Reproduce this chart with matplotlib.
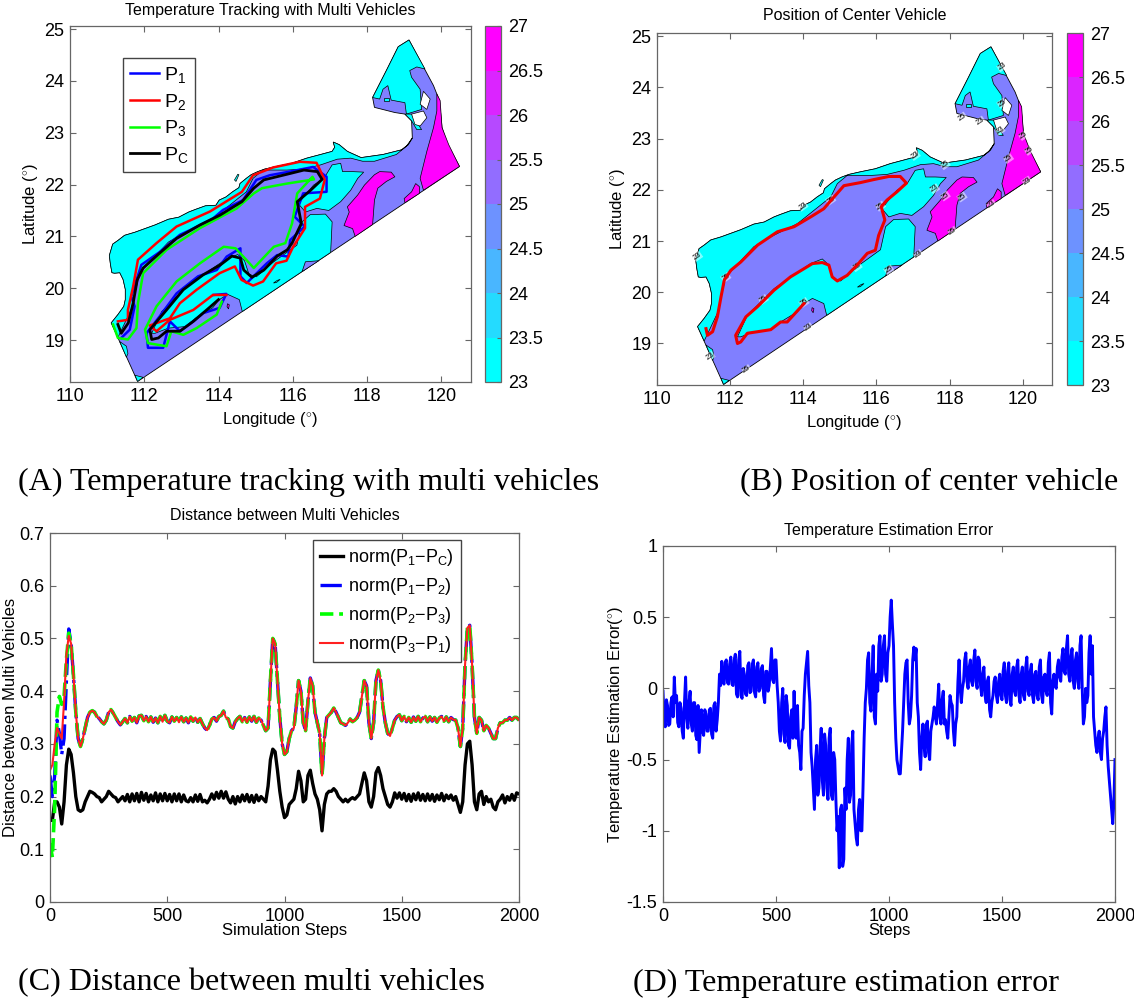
import numpy as np
import matplotlib
matplotlib.use('Agg')
import matplotlib.pyplot as plt
from matplotlib.colors import BoundaryNorm, ListedColormap, Normalize
from matplotlib.cm import ScalarMappable

plt.rcParams['font.family'] = 'Liberation Sans'
plt.rcParams['mathtext.fontset'] = 'custom'
plt.rcParams['mathtext.rm'] = 'Liberation Sans'
plt.rcParams['mathtext.it'] = 'Liberation Sans'
plt.rcParams['axes.unicode_minus'] = False
plt.rcParams['axes.linewidth'] = 0.9
plt.rcParams['axes.edgecolor'] = '#666666'

W, H = 1134, 1000

# map outline and temperature regions, lon / lat
south_lon = [111.82, 120.49, 120.15, 120.02, 119.95, 119.79, 119.13, 118.84, 118.52, 118.15, 118.20, 118.75,
             119.02, 119.20]
south_lat = [18.20, 22.35, 22.80, 23.10, 23.62, 23.91, 24.79, 24.66, 24.20, 23.68, 23.49, 23.39,
             23.36, 23.23]
north_lon = [119.22, 119.11, 118.93, 118.43, 117.84, 117.47, 117.25, 117.09, 117.13, 117.06, 116.75, 116.38,
             115.97, 115.56, 115.25, 115.06, 114.88, 114.75, 114.58, 114.55, 114.38, 114.20, 114.02, 113.93,
             113.65, 113.38, 113.20, 112.93, 112.65, 112.29, 112.02, 111.75, 111.47, 111.29, 111.15, 111.06,
             111.09, 111.13, 111.20, 111.34, 111.43, 111.49, 111.49, 111.45, 111.29, 111.11]
north_lat = [22.90, 22.77, 22.67, 22.58, 22.52, 22.64, 22.77, 22.82, 22.72, 22.64, 22.58, 22.51,
             22.41, 22.35, 22.30, 22.25, 22.19, 22.12, 22.02, 21.94, 21.86, 21.76, 21.70, 21.60,
             21.59, 21.52, 21.47, 21.37, 21.33, 21.22, 21.15, 21.08, 21.02, 20.92, 20.85, 20.63,
             20.46, 20.30, 20.29, 20.30, 20.17, 19.98, 19.78, 19.65, 19.49, 19.33]
inner_lon = [111.29, 111.65, 111.88, 112.65, 113.02, 113.84, 114.75, 114.93, 115.20, 115.84, 116.29, 116.75, 117.20,
             117.56, 117.88, 118.20, 118.79, 119.06]
inner_lat = [19.05, 19.59, 20.30, 20.89, 21.05, 21.34, 21.86, 22.12, 22.28, 22.28, 22.30, 22.38, 22.49,
             22.51, 22.45, 22.45, 22.58, 22.74]

central_lon = [112.20, 112.47, 113.20, 114.20, 114.52, 114.70, 114.82, 115.02, 115.47, 116.11, 116.25, 116.47,
               116.88, 117.06, 117.02, 114.64, 114.56, 114.25, 114.02, 113.84, 113.38, 113.11, 112.65, 112.29]
central_lat = [19.13, 19.55, 20.07, 20.56, 20.65, 20.53, 20.27, 20.22, 20.50, 20.83, 21.28, 21.42,
               21.43, 21.28, 20.69, 19.55, 19.78, 19.88, 19.78, 19.62, 19.42, 19.26, 19.23, 19.13]

upper_lon = [116.29, 116.56, 116.84, 117.06, 117.29, 117.34, 117.61, 117.91, 117.75, 117.56, 117.29, 116.97,
             116.65, 116.34, 116.15]
upper_lat = [21.76, 21.99, 22.12, 22.38, 22.41, 22.25, 22.25, 22.24, 22.12, 21.89, 21.67, 21.50,
             21.54, 21.47, 21.63]

top_lon = [119.13, 119.56, 119.34, 119.15, 119.20, 119.43, 119.47, 119.06, 119.02, 118.65, 118.56, 118.43,
           118.34, 118.15, 118.52, 118.84]
top_lat = [24.79, 24.23, 24.27, 24.20, 24.07, 23.84, 23.45, 23.36, 23.58, 23.63, 23.91, 23.84,
           23.65, 23.68, 24.20, 24.66]

spot_lon = [118.45, 118.58, 118.58, 118.45]
spot_lat = [23.68, 23.68, 23.62, 23.62]
neck_lon = [119.02, 119.20, 119.47, 119.34, 119.20]
neck_lat = [23.36, 23.36, 23.06, 23.06, 23.23]
sw_lon = [111.34, 111.52, 111.56, 111.52]
sw_lat = [18.97, 18.88, 18.74, 18.67]
tip_lon = [111.75, 111.97, 111.82]
tip_lat = [18.32, 18.28, 18.20]
isle_lon = [115.48, 115.58, 115.66, 115.56]
isle_lat = [20.10, 20.15, 20.17, 20.11]
islet_lon = [114.43, 114.52, 114.55, 114.47]
islet_lat = [22.09, 22.20, 22.19, 22.06]

east_lon = [119.88, 119.97, 120.02, 120.20, 120.49, 119.52, 119.43, 119.61, 119.79, 119.88]
east_lat = [23.75, 23.62, 23.10, 22.77, 22.35, 21.89, 22.12, 22.64, 23.10, 23.42]
mid_lon = [118.75, 118.52, 118.29, 118.20, 118.15, 117.68, 117.61, 117.38, 117.52, 117.47, 117.75, 117.93,
           118.20, 118.34, 118.65]
mid_lat = [22.15, 22.06, 21.93, 21.70, 21.23, 21.00, 21.15, 21.21, 21.47, 21.57, 21.80, 21.99,
           22.19, 22.25, 22.24]
small_lon = [119.02, 119.00, 119.20, 119.31, 119.41, 119.41]
small_lat = [21.65, 21.73, 21.86, 22.02, 21.96, 21.83]
dot_lon = [114.24, 114.29, 114.27, 114.23]
dot_lat = [19.70, 19.68, 19.60, 19.64]
patch_lon = [116.25, 116.34, 116.70]
patch_lat = [20.32, 20.51, 20.53]

bay1_lon = [119.52, 119.70, 119.61, 119.43]
bay1_lat = [23.80, 23.65, 23.45, 23.55]
bay2_lon = [119.20, 119.52, 119.61, 119.43, 119.29]
bay2_lat = [23.36, 23.42, 23.29, 23.13, 23.16]

# vehicle tracks in panel A
p1_lon = [111.38, 111.61, 111.74, 111.65, 111.92, 112.42, 112.96, 113.23, 113.86, 114.12, 114.66, 115.02, 115.38,
          115.92, 116.55, 116.91, 116.91, 116.28, 116.05, 116.32, 115.93, 115.88, 115.58, 115.30, 114.76, 114.59,
          114.59, 114.22, 113.95, 113.45, 112.87, 112.42, 112.06, 112.10, 112.51, 112.69, 112.96, 113.32, 113.59,
          114.03, 114.21, 113.87]
p1_lat = [19.04, 19.20, 19.65, 19.84, 20.45, 20.70, 21.03, 21.12, 21.35, 21.51, 21.70, 22.09, 22.18,
          22.25, 22.34, 22.15, 21.86, 21.83, 21.38, 21.19, 20.93, 20.61, 20.64, 20.48, 20.10, 20.23,
          20.77, 20.61, 20.35, 20.23, 19.90, 19.46, 19.13, 18.85, 18.85, 19.36, 19.17, 19.36, 19.52,
          19.62, 19.89, 19.87]
p2_lon = [111.29, 111.56, 111.56, 111.70, 111.83, 112.33, 112.87, 113.77, 114.63, 114.93, 115.47, 116.19, 116.64,
          116.86, 116.73, 116.33, 116.33, 116.01, 115.83, 115.55, 115.20, 114.93, 114.62, 114.44, 114.03, 113.41,
          112.96, 112.69, 112.15, 112.33, 112.69, 113.32, 113.85, 114.21]
p2_lat = [19.36, 19.39, 19.58, 20.03, 20.55, 20.87, 21.19, 21.48, 21.86, 22.18, 22.33, 22.44, 22.42,
          22.09, 21.73, 21.57, 21.16, 20.80, 20.53, 20.48, 20.13, 20.05, 20.16, 20.42, 20.29, 19.97,
          19.71, 19.42, 19.28, 19.17, 19.39, 19.58, 19.87, 19.87]
p3_lon = [111.16, 111.29, 111.56, 111.79, 111.83, 111.97, 112.60, 113.50, 114.49, 114.95, 115.17, 115.85, 116.57,
          116.53, 116.12, 115.98, 115.80, 115.49, 114.95, 114.46, 114.14, 113.50, 112.87, 112.33, 112.02, 112.10,
          112.60, 112.73, 113.05, 113.41, 113.95, 114.09]
p3_lat = [19.30, 19.04, 19.01, 19.23, 19.71, 20.29, 20.74, 21.16, 21.54, 21.83, 21.93, 22.02, 22.10,
          22.15, 21.83, 21.25, 20.87, 20.80, 20.39, 20.77, 20.80, 20.48, 20.13, 19.65, 19.20, 18.94,
          18.88, 19.17, 19.10, 19.23, 19.49, 19.74]
pc_lon = [111.29, 111.38, 111.57, 111.70, 111.81, 111.97, 112.42, 112.87, 113.50, 114.04, 114.63, 114.95, 115.22,
          115.85, 116.30, 116.66, 116.79, 116.48, 116.12, 116.23, 115.98, 115.85, 115.58, 115.22, 114.90, 114.68,
          114.59, 114.36, 114.05, 113.59, 113.05, 112.60, 112.15, 112.20, 112.38, 112.60, 112.96, 113.32, 113.68,
          114.00]
pc_lat = [19.30, 19.13, 19.33, 19.71, 20.16, 20.39, 20.68, 20.96, 21.22, 21.41, 21.67, 21.93, 22.09,
          22.20, 22.28, 22.25, 22.10, 21.89, 21.67, 21.25, 20.87, 20.74, 20.62, 20.35, 20.21, 20.35,
          20.58, 20.62, 20.45, 20.26, 19.97, 19.58, 19.20, 19.01, 19.04, 19.17, 19.17, 19.36, 19.58,
          19.78]

# center vehicle in panel B
center_lon = [111.34, 111.38, 111.52, 111.65, 111.75, 111.84, 112.02, 112.29, 112.75, 113.29, 113.75, 114.20, 114.56,
              114.84, 115.11, 115.56, 115.93, 116.34, 116.65, 116.82, 116.56, 116.29, 116.13, 116.23, 116.06, 115.97,
              115.75, 115.47, 115.20, 114.93, 114.79, 114.70, 114.52, 114.25, 114.02, 113.65, 113.20, 112.75, 112.43,
              112.15, 112.20, 112.29, 112.47, 112.75, 113.11, 113.38, 113.56, 114.02]
center_lat = [19.29, 19.16, 19.23, 19.52, 19.91, 20.24, 20.43, 20.59, 20.92, 21.18, 21.28, 21.47, 21.63,
              21.86, 22.08, 22.14, 22.20, 22.26, 22.26, 22.13, 21.96, 21.80, 21.67, 21.41, 21.11, 20.82,
              20.76, 20.53, 20.33, 20.22, 20.30, 20.53, 20.58, 20.56, 20.46, 20.30, 20.04, 19.72, 19.52,
              19.16, 19.00, 19.03, 19.20, 19.23, 19.27, 19.42, 19.42, 19.78]

# contour labels in panel B
label_lon = [111.11, 111.88, 112.91, 114.02, 114.14, 111.45, 112.45, 113.99, 114.75, 115.47, 116.34, 117.14, 118.08,
             119.15, 120.11, 120.18, 120.02, 119.61, 118.84, 118.34, 119.43, 119.43, 119.38, 117.06, 117.88, 117.59,
             117.88, 118.34, 116.11]
label_lat = [20.70, 20.29, 19.86, 19.80, 19.31, 18.75, 18.49, 21.68, 21.80, 20.50, 20.44, 20.74, 21.19,
             21.71, 22.17, 22.77, 23.06, 22.61, 23.34, 23.42, 24.40, 23.69, 23.16, 22.67, 22.49, 22.02,
             21.88, 21.86, 21.68]
label_txt = ['23', '25', '25', '25', '23', '23', '25', '23', '25', '25', '25', '23', '25',
             '23', '23', '25', '25', '25', '23', '25', '23', '25', '23', '23', '25', '23',
             '25', '25', '25']

cbar_levels = [23, 23.5, 24, 24.5, 25, 25.5, 26, 26.5, 27]
cbar_labels = ['23', '23.5', '24', '24.5', '25', '25.5', '26', '26.5', '27']
lon_ticks = [110, 112, 114, 116, 118, 120]
lat_ticks = [19, 20, 21, 22, 23, 24, 25]

# distance panel, one value every 10 steps
head_p1p2 = [.24, .2, .24, .345, .32, .28, .31, .42, .518, .49]
head_p2p3 = [.11, .085, .18, .36, .39, .375, .39, .46, .51, .49]
head_p3p1 = [.25, .26, .30, .33, .32, .31, .38, .47, .505, .49]
pair_tail = [.43, .36, .31, .295, .31, .33, .35, .36, .363, .36,
             .352, .348, .342, .338, .345, .36, .365, .358, .35, .342,
             .336, .342, .348, .34, .352, .343, .35, .34, .353, .354,
             .344, .352, .342, .351, .341, .349, .34, .352, .342, .354,
             .343, .34, .351, .343, .35, .341, .351, .342, .349, .34,
             .351, .343, .35, .341, .348, .338, .33, .326, .335, .347,
             .35, .343, .352, .354, .362, .35, .347, .333, .33, .342,
             .348, .352, .342, .35, .341, .351, .343, .352, .341, .349,
             .345, .335, .325, .33, .42, .5, .49, .42, .35, .30,
             .28, .285, .31, .325, .33, .37, .42, .4, .34, .325,
             .38, .425, .41, .36, .34, .32, .24, .31, .35, .355,
             .36, .368, .36, .35, .34, .338, .335, .34, .347, .342,
             .345, .35, .36, .39, .42, .41, .34, .31, .34, .42,
             .44, .42, .37, .34, .32, .315, .33, .345, .352, .355,
             .344, .352, .342, .35, .341, .351, .343, .352, .342, .349,
             .352, .342, .351, .343, .35, .341, .349, .352, .343, .351,
             .342, .35, .346, .345, .33, .295, .33, .45, .52, .525,
             .45, .35, .32, .35, .345, .325, .335, .33, .32, .31,
             .31, .33, .34, .34, .345, .345, .35, .345, .35, .35,
             .345]
p1_pc = [.155, .155, .19, .19, .18, .148, .19, .26, .29, .28,
         .245, .2, .175, .172, .175, .19, .2, .21, .208, .205,
         .2, .198, .19, .195, .2, .21, .205, .2, .198, .19,
         .195, .2, .192, .204, .19, .205, .192, .206, .19, .208,
         .193, .206, .19, .203, .192, .207, .19, .205, .192, .206,
         .192, .204, .19, .205, .192, .205, .19, .203, .192, .19,
         .198, .19, .203, .191, .204, .19, .193, .188, .195, .205,
         .195, .208, .197, .21, .197, .209, .195, .188, .2, .186,
         .2, .19, .203, .192, .204, .19, .202, .189, .203, .192,
         .2, .195, .19, .22, .27, .29, .285, .25, .21, .18,
         .16, .165, .185, .19, .195, .215, .248, .23, .19, .195,
         .24, .25, .225, .205, .195, .175, .135, .185, .205, .21,
         .21, .215, .21, .2, .195, .19, .195, .19, .195, .198,
         .195, .2, .205, .225, .245, .23, .19, .18, .2, .245,
         .255, .24, .215, .2, .185, .18, .19, .207, .197, .207,
         .195, .206, .192, .204, .191, .205, .194, .207, .193, .204,
         .192, .205, .193, .204, .191, .203, .194, .206, .192, .203,
         .196, .203, .193, .2, .185, .17, .19, .26, .3, .305,
         .26, .19, .175, .205, .21, .185, .2, .19, .195, .18,
         .175, .19, .195, .203, .188, .2, .193, .204, .193, .207,
         .205]

# estimation error, one value every 10 steps, then the values between them
est_error = [-.02, -.27, -.12, -.25, -.06, .08, -.05, -.27, -.14, -.35,
             .08, -.28, -.02, -.3, -.1, -.36, -.45, -.15, -.33, -.18,
             -.3, -.14, -.35, -.1, -.22, .1, .19, .03, .2, .03,
             .22, .02, .24, -.06, .26, -.07, .1, -.05, .18, -.02,
             .2, -.06, .18, 0, .16, -.1, .12, .02, .28, .04,
             .2, -.1, -.37, 0, -.38, -.12, -.42, -.15, -.02, -.35,
             -.4, -.57, -.28, .1, .26, -.1, -.55, -.85, -.4, -.7,
             -.28, -.75, -.4, -.78, -.28, -.78, -.5, -1.0, -1.26, -.82,
             -1.2, -.85, -.35, -.75, -.3, -.95, -1.1, -.78, -1.0, -.35,
             0, .25, -.16, .3, -.25, -.02, .37, .1, .37, .05,
             .3, .62, .3, -.35, -.55, -.6, -.3, .1, .2, -.25,
             -.05, .29, .28, -.2, -.57, -.25, -.48, -.23, -.5, -.25,
             -.13, -.25, .03, -.25, -.02, -.22, -.35, -.05, -.12, -.4,
             -.2, .2, -.1, .05, .25, 0, .2, .02, .27, 0,
             .2, -.05, .15, -.1, .08, -.2, -.05, .08, -.1, .1,
             -.08, .18, -.1, .18, -.12, .15, -.05, .2, -.1, .15,
             -.08, .22, -.05, .17, -.1, .12, -.08, .2, -.1, .1,
             -.05, .25, -.18, .1, 0, .2, .05, .28, .1, .37,
             .05, .28, 0, .25, 0, .37, -.25, 0, -.05, .37,
             .3, -.3, -.45, -.3, -.5, -.3, -.13, -.55, -.75, -.95,
             -.5]
est_between = [-.22, -.08, -.26, -.1, -.2, -.1, -.24, -.1, -.3, -.1,
               -.2, -.1, -.25, -.1, -.33, -.12, -.3, -.3, -.15, -.3,
               -.15, -.32, -.12, -.3, -.1, .02, .05, .18, .04, .17,
               .03, .2, -.04, .2, -.05, .14, -.04, .16, -.03, .17,
               -.03, .15, -.02, .14, -.05, .12, -.02, .15, .06, .2,
               .02, -.3, -.1, -.32, -.05, -.4, -.2, -.35, -.3, -.12,
               -.45, -.3, -.05, .18, .02, -.45, -.7, -.5, -.75, -.42,
               -.65, -.32, -.7, -.35, -.75, -.45, -.78, -.9, -.85, -1.25,
               -.7, -.5, -.8, -.4, -.85, -1.05, -.85, -1.0, -.7, -.1,
               .2, -.1, .1, -.2, .1, .3, .05, .3, .1, .25,
               .5, .45, -.1, -.5, -.6, -.45, -.1, .18, -.1, -.2,
               .2, .2, -.1, -.45, -.35, -.4, -.25, -.45, -.3, -.2,
               -.2, -.1, -.2, -.08, -.25, -.3, -.2, -.1, -.3, -.25,
               .05, 0, 0, .2, .05, .15, .05, .2, .05, .22,
               .02, .1, -.05, .05, -.15, -.1, .05, -.05, .05, -.05,
               .12, -.05, .12, -.08, .1, -.02, .15, -.05, .1, -.05,
               .15, -.02, .12, -.05, .1, -.05, .15, -.05, .08, -.02,
               .18, -.1, .05, .02, .15, .08, .22, .12, .28, .1,
               .22, .05, .2, .05, .3, 0, -.2, -.1, .25, .1,
               -.2, -.4, -.35, -.45, -.35, -.2, -.4, -.65, -.85, -.8]

steps = np.arange(0, 2001, 10)
fine_steps = np.arange(0, 2001, 5)
fine_error = np.empty(fine_steps.size)
fine_error[::2] = est_error
fine_error[1::2] = est_between

fig = plt.figure(figsize=(W / 100, H / 100), dpi=100)


def add_axes(left, top, right, bottom):
    return fig.add_axes([left / W, 1 - bottom / H, (right - left) / W, (bottom - top) / H])


temp_norm = Normalize(23, 27)
cyan = plt.cm.cool(temp_norm(23))
purple = plt.cm.cool(temp_norm(25))
magenta = plt.cm.cool(temp_norm(27))
step_cmap = ListedColormap(plt.cm.cool(np.linspace(0, 1, 8)))


def draw_map(ax):
    ax.fill(south_lon + north_lon, south_lat + north_lat, facecolor=purple, edgecolor='black', lw=0.6, zorder=1)
    regions = [(north_lon + inner_lon, north_lat + inner_lat, cyan),
               (central_lon, central_lat, cyan), (upper_lon, upper_lat, cyan),
               (top_lon, top_lat, cyan), (neck_lon, neck_lat, cyan), (sw_lon, sw_lat, cyan),
               (tip_lon, tip_lat, cyan), (isle_lon, isle_lat, cyan), (islet_lon, islet_lat, cyan),
               (patch_lon, patch_lat, purple),
               (spot_lon, spot_lat, cyan), (east_lon, east_lat, magenta), (mid_lon, mid_lat, magenta),
               (small_lon, small_lat, magenta), (dot_lon, dot_lat, magenta),
               (bay1_lon, bay1_lat, 'white'), (bay2_lon, bay2_lat, 'white')]
    for lons, lats, col in regions:
        ax.fill(lons, lats, facecolor=col, edgecolor='black', lw=0.5, zorder=2)
    ax.set_xlim(110, 120.8)
    ax.set_ylim(18.19, 25.06)
    ax.set_xticks(lon_ticks)
    ax.set_yticks(lat_ticks)
    ax.tick_params(direction='in', top=True, right=True, labelsize=13, length=4, color='#666666', pad=4)
    ax.set_xlabel('Longitude ($^{\\circ}$)', fontsize=12, labelpad=4)
    ax.set_ylabel('Latitude ($^{\\circ}$)', fontsize=12, labelpad=3)


def draw_cbar(cax):
    sm = ScalarMappable(norm=BoundaryNorm(cbar_levels, 8), cmap=step_cmap)
    cb = fig.colorbar(sm, cax=cax, spacing='uniform', ticks=cbar_levels)
    cb.ax.set_yticklabels(cbar_labels)
    cb.ax.tick_params(direction='in', labelsize=13, length=3, color='#666666', pad=5)
    cb.outline.set_edgecolor('#666666')


# Panel A
ax_a = add_axes(70, 26, 471, 382)
draw_map(ax_a)
track_style = dict(solid_joinstyle='round')
ax_a.plot(p1_lon, p1_lat, color='#0000ff', lw=1.8, label='$\\mathregular{P_1}$', zorder=3, **track_style)
ax_a.plot(p2_lon, p2_lat, color='#ff0000', lw=1.8, label='$\\mathregular{P_2}$', zorder=4, **track_style)
ax_a.plot(p3_lon, p3_lat, color='#00ff00', lw=1.8, label='$\\mathregular{P_3}$', zorder=4, **track_style)
ax_a.plot(pc_lon, pc_lat, color='black', lw=2.0, label='$\\mathregular{P_C}$', zorder=5, **track_style)
ax_a.legend(loc='upper left', bbox_to_anchor=(0.132, 0.91), fontsize=14, fancybox=False, framealpha=1,
            edgecolor='#444444', borderpad=0.35, labelspacing=0.35, handlelength=1.5, handletextpad=0.25,
            borderaxespad=0)
ax_a.set_title('Temperature Tracking with Multi Vehicles', fontsize=11.5, pad=8)
draw_cbar(add_axes(485, 26, 501, 382))

# Panel B
ax_b = add_axes(657, 33, 1052, 385)
draw_map(ax_b)
ax_b.plot(center_lon, center_lat, color='#ee0000', lw=2.2, zorder=5, **track_style)
for lon, lat, txt in zip(label_lon, label_lat, label_txt):
    ax_b.text(lon, lat, txt, fontsize=5.5, rotation=35, ha='center', va='center', zorder=4,
              bbox=dict(facecolor='white', edgecolor='none', pad=0.1, alpha=0.5))
ax_b.set_title('Position of Center Vehicle', fontsize=11.5, pad=9)
draw_cbar(add_axes(1067, 33, 1083, 385))

# Panel C
ax_c = add_axes(50, 533, 519, 902)
ax_c.plot(steps, p1_pc, color='black', lw=2.4, label='$\\mathregular{norm(P_1{-}P_C)}$')
ax_c.plot(steps, head_p1p2 + pair_tail, color='#0000ff', lw=2.4, ls='-.', label='$\\mathregular{norm(P_1{-}P_2)}$')
ax_c.plot(steps, head_p2p3 + pair_tail, color='#00ff00', lw=2.6, ls='--', label='$\\mathregular{norm(P_2{-}P_3)}$')
ax_c.plot(steps, head_p3p1 + pair_tail, color='#ff2020', lw=1.5, label='$\\mathregular{norm(P_3{-}P_1)}$')
ax_c.set_xlim(0, 2000)
ax_c.set_ylim(0, 0.7)
ax_c.set_xticks([0, 500, 1000, 1500, 2000])
ax_c.set_yticks([0, 0.1, 0.2, 0.3, 0.4, 0.5, 0.6, 0.7])
ax_c.set_yticklabels(['0', '0.1', '0.2', '0.3', '0.4', '0.5', '0.6', '0.7'])
ax_c.tick_params(direction='in', top=True, right=True, labelsize=13, length=4, color='#666666', pad=4)
ax_c.set_xlabel('Simulation Steps', fontsize=12, labelpad=-1)
ax_c.set_ylabel('Distance between Multi Vehicles', fontsize=12, labelpad=1)
ax_c.set_title('Distance between Multi Vehicles', fontsize=11.5, pad=9)
ax_c.legend(loc='upper right', bbox_to_anchor=(0.876, 0.982), fontsize=13, fancybox=False, framealpha=1,
            edgecolor='#444444', borderpad=0.4, labelspacing=0.45, handlelength=1.3, handletextpad=0.25,
            borderaxespad=0)

# Panel D
ax_d = add_axes(663, 546, 1115, 902)
ax_d.plot(fine_steps, fine_error, color='#0000ff', lw=2.1)
ax_d.set_xlim(0, 2000)
ax_d.set_ylim(-1.5, 1)
ax_d.set_xticks([0, 500, 1000, 1500, 2000])
ax_d.set_yticks([-1.5, -1, -0.5, 0, 0.5, 1])
ax_d.set_yticklabels(['-1.5', '-1', '-0.5', '0', '0.5', '1'])
ax_d.tick_params(direction='in', top=True, right=True, labelsize=13, length=4, color='#666666', pad=4)
ax_d.set_xlabel('Steps', fontsize=12, labelpad=-1)
ax_d.set_ylabel('Temperature Estimation Error($^{\\circ}$)', fontsize=12, labelpad=1)
ax_d.set_title('Temperature Estimation Error', fontsize=11.5, pad=8)

# captions under each panel
captions = ['(A) Temperature tracking with multi vehicles', '(B) Position of center vehicle',
            '(C) Distance between multi vehicles', '(D) Temperature estimation error']
cap_x = [18, 740, 18, 633]
cap_y = [482, 482, 983, 983]
for txt, x, y in zip(captions, cap_x, cap_y):
    fig.text(x / W, 1 - y / H, txt, fontsize=23.1, family='Liberation Serif', ha='left', va='center')

plt.savefig('out.png', dpi=100)
plt.close()
